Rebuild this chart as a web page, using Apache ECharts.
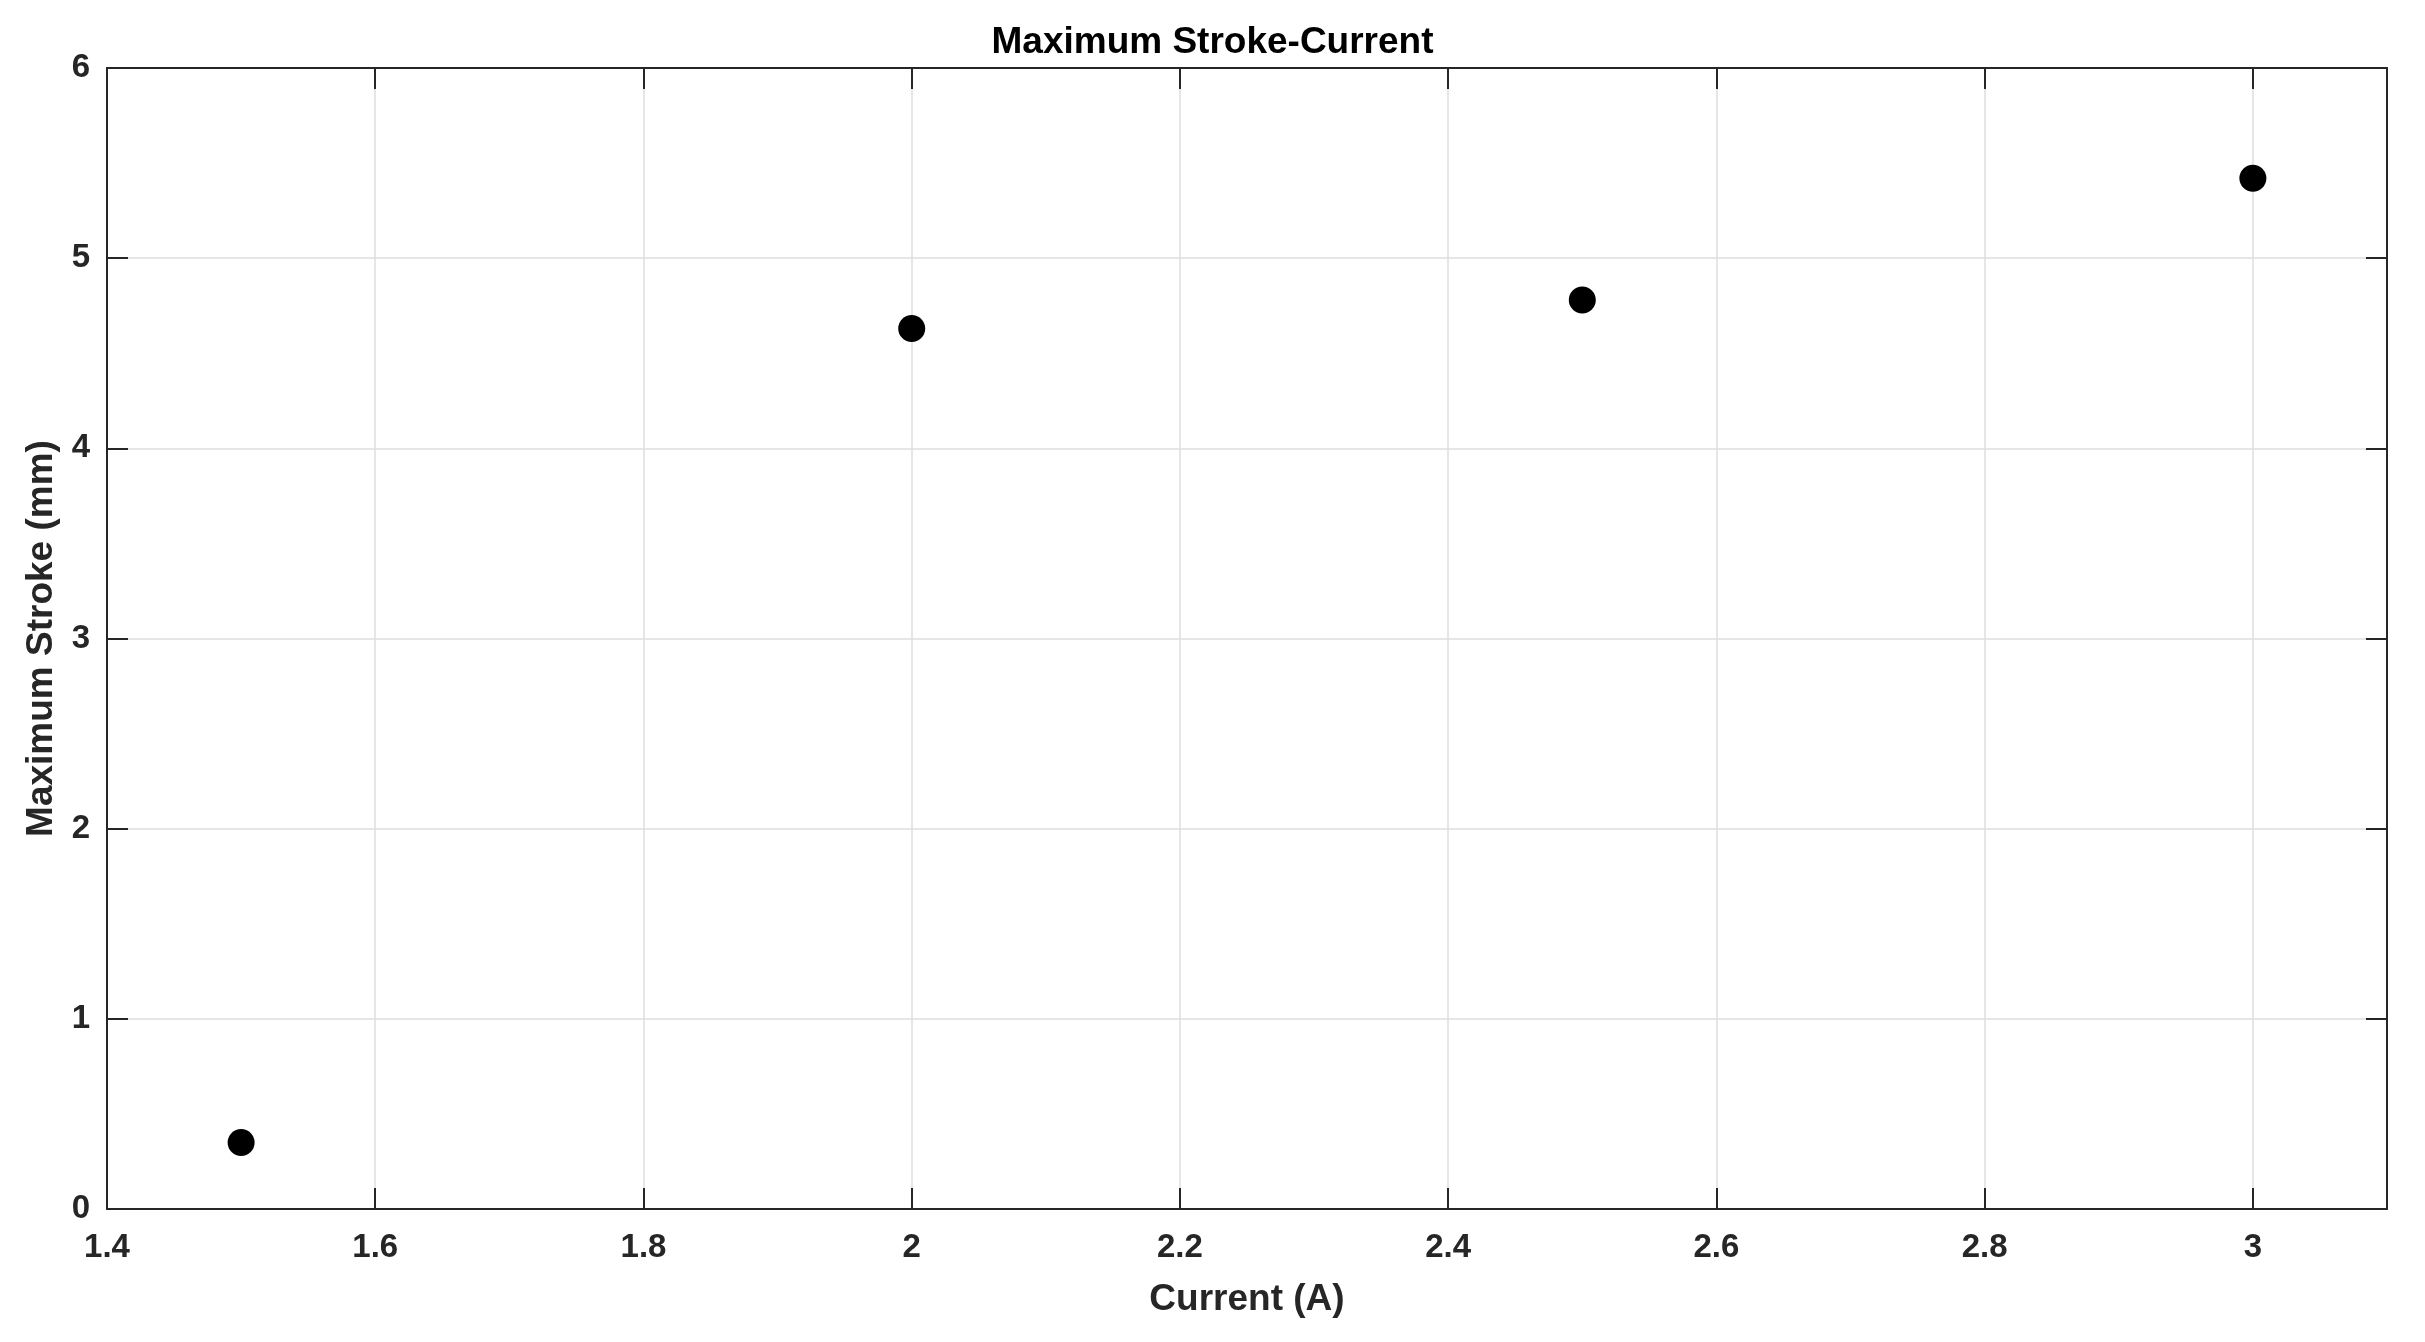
<!DOCTYPE html>
<html>
<head>
<meta charset="utf-8">
<title>Maximum Stroke-Current</title>
<script src="https://cdn.jsdelivr.net/npm/echarts@6/dist/echarts.min.js"></script>
<style>
  html, body { margin: 0; padding: 0; background: #fff; }
  #myChart { width: 2425px; height: 1342px; }
</style>
</head>
<body>
<div id="myChart"></div>
<script>
// data
const current = [1.5, 2.0, 2.5, 3.0];
const maxStroke = [0.35, 4.63, 4.78, 5.42];
const xTicks = [1.4, 3.1, 0.2]; // min, max, step
const yTicks = [0, 6, 1];

const FONT = '"Liberation Sans", Arial, sans-serif';
const INK = "#262626";

const tickStyle = {
  show: true,
  inside: true,
  length: 21,
  lineStyle: { color: INK, width: 2 },
};
const lineStyle = { show: true, onZero: false, lineStyle: { color: INK, width: 2 } };

const option = {
  backgroundColor: "#fff",
  animation: false,
  title: {
    text: "Maximum Stroke-Current",
    left: "center",
    top: 19,
    textStyle: { fontFamily: FONT, fontSize: 37, fontWeight: "bold", color: "#000" },
  },
  grid: { left: 107, right: 38, top: 68, bottom: 133, containLabel: false },
  xAxis: [
    {
      type: "value",
      min: xTicks[0],
      max: xTicks[1],
      interval: xTicks[2],
      name: "Current (A)",
      nameLocation: "middle",
      nameGap: 72,
      nameTextStyle: { fontFamily: FONT, fontSize: 37, fontWeight: "bold", color: INK },
      axisLine: lineStyle,
      axisTick: tickStyle,
      axisLabel: {
        fontFamily: FONT, fontSize: 33, fontWeight: "bold", color: INK, margin: 22,
        showMaxLabel: false,
        formatter: (v) => String(Math.round(v * 10) / 10),
      },
      splitLine: { show: true, lineStyle: { color: "#dedede", width: 1.5 } },
    },
    {
      type: "value",
      position: "top",
      min: xTicks[0],
      max: xTicks[1],
      interval: xTicks[2],
      axisLine: lineStyle,
      axisTick: tickStyle,
      axisLabel: { show: false },
      splitLine: { show: false },
    },
  ],
  yAxis: [
    {
      type: "value",
      min: yTicks[0],
      max: yTicks[1],
      interval: yTicks[2],
      name: "Maximum Stroke (mm)",
      nameLocation: "middle",
      nameGap: 46,
      nameTextStyle: { fontFamily: FONT, fontSize: 37, fontWeight: "bold", color: INK },
      axisLine: lineStyle,
      axisTick: tickStyle,
      axisLabel: { fontFamily: FONT, fontSize: 33, fontWeight: "bold", color: INK, margin: 17 },
      splitLine: { show: true, lineStyle: { color: "#dedede", width: 1.5 } },
    },
    {
      type: "value",
      position: "right",
      min: yTicks[0],
      max: yTicks[1],
      interval: yTicks[2],
      axisLine: lineStyle,
      axisTick: tickStyle,
      axisLabel: { show: false },
      splitLine: { show: false },
    },
  ],
  series: [
    {
      name: "Maximum Stroke",
      type: "scatter",
      xAxisIndex: 0,
      yAxisIndex: 0,
      data: current.map((c, i) => [c, maxStroke[i]]),
      symbol: "circle",
      symbolSize: 27,
      itemStyle: { color: "#000", opacity: 1 },
    },
  ],
};

const chart = echarts.init(document.getElementById("myChart"));
chart.setOption(option);
</script>
</body>
</html>
